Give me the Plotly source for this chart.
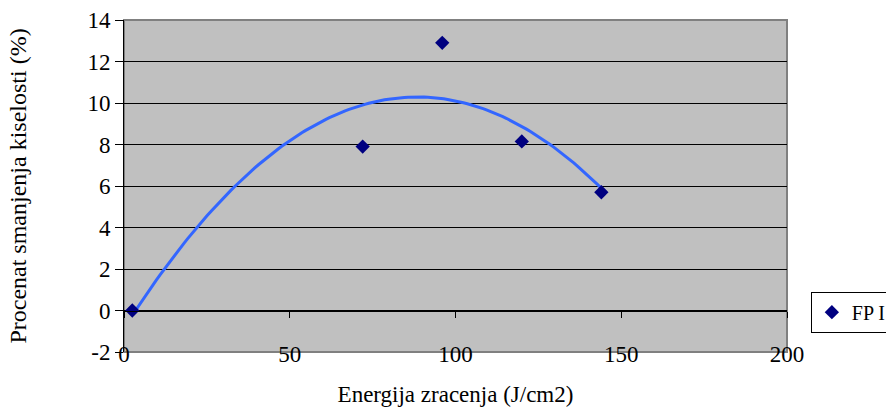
import numpy as np
import plotly.graph_objects as go

energy = [2.5, 72, 96, 120, 144]
reduction = [0.0, 7.9, 12.9, 8.15, 5.7]
series_name = "FP I"
x_ticks = [0, 50, 100, 150, 200]
y_ticks = [-2, 0, 2, 4, 6, 8, 10, 12, 14]
y_tick_text = ["-2", "0", "2", "4", "6", "8", "10", "12", "14"]

coef = np.polyfit(energy, reduction, 2)
xt = np.linspace(min(energy), max(energy), 120)
yt = np.polyval(coef, xt)

FONT = "'Liberation Serif', 'Times New Roman', serif"

fig = go.Figure()
# invisible anchor trace so the secondary (tick-mark) axis gets drawn
fig.add_trace(go.Scatter(x=[0], y=[0], mode="markers", marker=dict(opacity=0),
                         showlegend=False, hoverinfo="skip", xaxis="x2"))
fig.add_trace(go.Scatter(x=xt, y=yt, mode="lines", line=dict(color="#3366FF", width=3),
                         showlegend=False, hoverinfo="skip"))
fig.add_trace(go.Scatter(x=energy, y=reduction, mode="markers", name=series_name,
                         marker=dict(symbol="diamond", size=11, color="#000080",
                                     line=dict(width=0))))

fig.update_layout(
    width=886, height=407,
    margin=dict(l=124, r=99, t=20, b=55, autoexpand=False),
    paper_bgcolor="white", plot_bgcolor="#C0C0C0",
    font=dict(family=FONT, size=23, color="black"),
    xaxis=dict(range=[0, 200], tickvals=x_ticks, showgrid=False, zeroline=False,
               showline=False, ticks="", ticklabelstandoff=-14,
               tickfont=dict(family=FONT, size=23),
               title=dict(text="Energija zracenja (J/cm2)", standoff=24,
                          font=dict(family=FONT, size=23))),
    xaxis2=dict(range=[0, 200], tickvals=x_ticks, overlaying="x", anchor="free",
                position=2/16, showgrid=False, zeroline=False, showline=True,
                linecolor="black", linewidth=1, ticks="outside", ticklen=6,
                tickcolor="black", showticklabels=False),
    yaxis=dict(range=[-2, 14], tickvals=y_ticks, ticktext=y_tick_text,
               showgrid=True, gridcolor="black",
               gridwidth=1, zeroline=False, showline=True, linecolor="black",
               linewidth=1, ticks="outside", ticklen=8, tickcolor="black",
               tickfont=dict(family=FONT, size=23),
               title=dict(text="Procenat smanjenja kiselosti (%)", standoff=54,
                          font=dict(family=FONT, size=24))),
    legend=dict(x=1.036, y=0.12, xanchor="left", yanchor="middle",
                bordercolor="black", borderwidth=1, bgcolor="white",
                font=dict(family=FONT, size=20), itemwidth=30),
    showlegend=True,
    shapes=[dict(type="rect", xref="paper", yref="paper", x0=0, x1=1, y0=0, y1=1,
                 line=dict(color="#808080", width=2), layer="below")],
)

fig.write_html("out.html")
